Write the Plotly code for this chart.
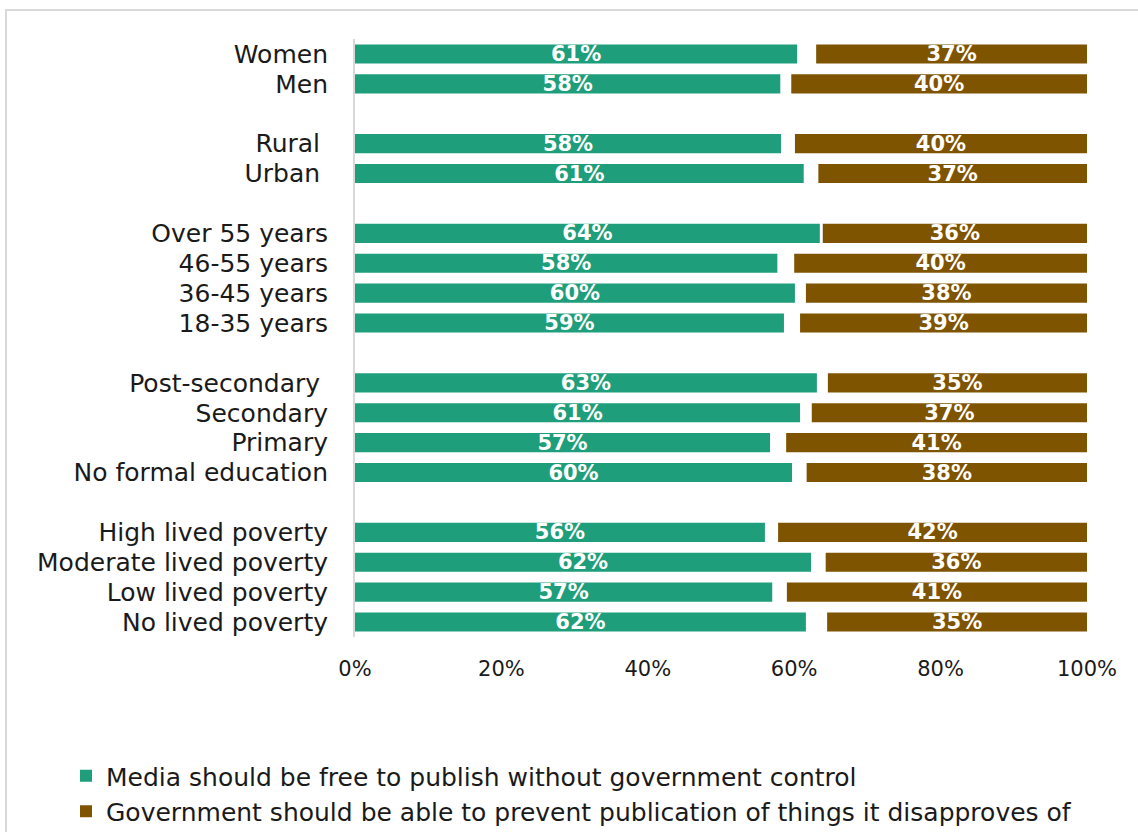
import plotly.graph_objects as go

# Category groups (blank slot between groups)
groups = [
    ["Women", "Men"],
    ["Rural\u00a0", "Urban\u00a0"],
    ["Over 55 years", "46-55 years", "36-45 years", "18-35 years"],
    ["Post-secondary\u00a0", "Secondary", "Primary", "No formal education"],
    ["High lived poverty", "Moderate lived poverty", "Low lived poverty", "No lived poverty"],
]

media_free = [60.4, 58.1, 58.2, 61.3, 63.5, 57.7, 60.1, 58.6, 63.1, 60.8, 56.7, 59.7, 56.0, 62.3, 57.0, 61.6]
gov_prevent = [37.0, 40.4, 39.9, 36.7, 36.1, 40.0, 38.4, 39.2, 35.4, 37.6, 41.1, 38.3, 42.2, 35.7, 41.0, 35.5]
media_labels = ["61%", "58%", "58%", "61%", "64%", "58%", "60%", "59%", "63%", "61%", "57%", "60%", "56%", "62%", "57%", "62%"]
gov_labels = ["37%", "40%", "40%", "37%", "36%", "40%", "38%", "39%", "35%", "37%", "41%", "38%", "42%", "36%", "41%", "35%"]

x_ticks = [0, 20, 40, 60, 80, 100]
x_ticktext = ["0%", "20%", "40%", "60%", "80%", "100%"]

series_names = [
    "Media should be free to publish without government control",
    "Government should be able to prevent publication of things it disapproves of",
]
colors = ["#1e9e7a", "#7f5400"]

# positions: one slot per category, one blank slot between groups
cats, ypos = [], []
slot = 0
for gi, g in enumerate(groups):
    if gi > 0:
        slot += 1
    for c in g:
        cats.append(c)
        ypos.append(slot)
        slot += 1
last_slot = ypos[-1]

FONT = "DejaVu Sans"
W, H = 1138, 832

fig = go.Figure()
fig.add_trace(go.Bar(
    y=ypos, x=media_free, base=[0] * len(media_free), orientation="h",
    name=series_names[0], legendgroup="a",
    marker=dict(color=colors[0], line=dict(width=0)),
    text=media_labels, textposition="inside", insidetextanchor="middle",
    constraintext="none",
    textfont=dict(color="white", size=21, family=FONT, weight="bold"),
))
fig.add_trace(go.Bar(
    y=ypos, x=gov_prevent, base=[100 - v for v in gov_prevent], orientation="h",
    name=series_names[1], legendgroup="b",
    marker=dict(color=colors[1], line=dict(width=0)),
    text=gov_labels, textposition="inside", insidetextanchor="middle",
    constraintext="none",
    textfont=dict(color="white", size=21, family=FONT, weight="bold"),
))

L, R, T = 355, 51, 39
H_plot = 598
fig.update_layout(
    width=W, height=H,
    margin=dict(l=L, r=R, t=T, b=H - T - H_plot, pad=0, autoexpand=False),
    barmode="overlay", bargap=0.36,
    plot_bgcolor="white", paper_bgcolor="white",
    font=dict(family=FONT, size=25, color="#1a1a1a"),
    showlegend=True,
    legend=dict(
        orientation="v", xref="container", yref="container",
        x=66 / W, xanchor="left", y=1 - 753 / H, yanchor="top",
        font=dict(size=25, family=FONT, color="#1a1a1a"),
        tracegroupgap=0, itemwidth=30, bgcolor="rgba(0,0,0,0)",
    ),
    xaxis=dict(
        range=[0, 100], tickvals=x_ticks, ticktext=x_ticktext,
        showgrid=False, zeroline=False, showline=False,
        ticks="outside", ticklen=13, tickcolor="rgba(0,0,0,0)",
        tickfont=dict(size=21, family=FONT, color="#1a1a1a"),
        automargin=False,
    ),
    yaxis=dict(
        range=[last_slot + 0.5, -0.5], tickvals=ypos, ticktext=cats,
        showgrid=False, zeroline=False,
        showline=True, linecolor="#d9d9d9", linewidth=2,
        ticks="", ticklabelstandoff=20,
        tickfont=dict(size=25, family=FONT, color="#1a1a1a"),
        automargin=False,
    ),
    shapes=[dict(
        type="rect", xref="paper", yref="paper",
        x0=(6 - L) / 732, x1=(1160 - L) / 732,
        y0=(T + H_plot - 860) / H_plot, y1=(T + H_plot - 10) / H_plot,
        line=dict(color="#d9d9d9", width=2), fillcolor="rgba(0,0,0,0)", layer="below",
    )],
)

fig.write_html("out.html", config={"displayModeBar": False},
               post_script="document.body.style.margin='0';")
